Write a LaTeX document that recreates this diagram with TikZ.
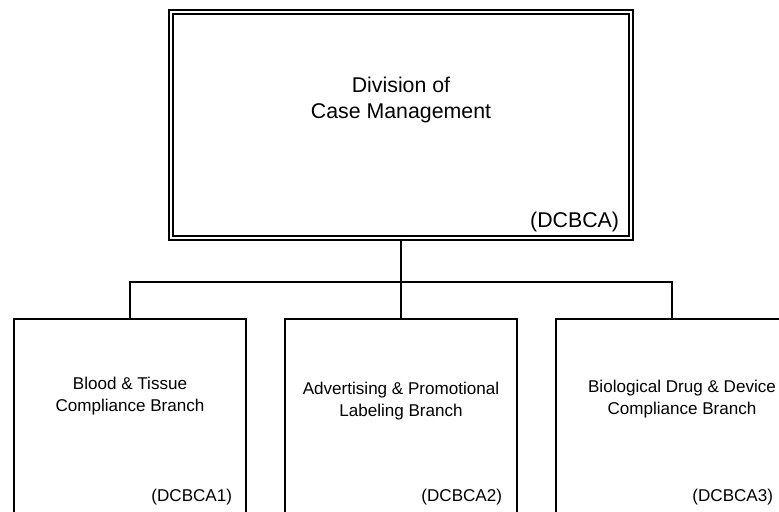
\documentclass[tikz,border=0pt]{standalone}
\usepackage{fontspec}
\setmainfont{Liberation Sans}

\tikzset{every picture/.style={line width=0.75pt}}
\tikzset{
  divbox/.style={draw, double, line width=0.9pt, double distance=2pt, minimum width=345pt, minimum height=169.5pt},
  branchbox/.style={draw, line width=1pt, minimum width=174pt, minimum height=187.5pt},
  divtext/.style={font=\fontsize{16pt}{19pt}\selectfont, align=center},
  brtext/.style={font=\fontsize{12.8pt}{16pt}\selectfont, align=center},
}

\begin{document}
\begin{tikzpicture}[x=0.75pt,y=0.75pt,yscale=-1,xscale=1]
\useasboundingbox (0,0) rectangle (779,511);
\clip (0,0) rectangle (779,511);

%Shape: Rectangle [division]
\node [divbox] (dcm) at (401,125) {};
%Shape: Rectangle [branches]
\node [branchbox] (bt) at (130,444) {};
\node [branchbox] (ap) at (401,444) {};
\node [branchbox] (bd) at (672,444) {};

%Straight Lines [tree]
\coordinate (bus) at (401,282);
\draw [line width=1pt] (dcm.south) -- (bus);
\draw [line width=1pt] (bt.north) |- (bus) -| (bd.north);
\draw [line width=1pt] (bus) -- (ap.north);

% Text Node
\node [divtext] (dcmname) at (401,100) {Division of\\Case Management};
% Text Node
\node [divtext, anchor=east] (dcmcode) at (624,222) {(DCBCA)};
% Text Node
\node [brtext] (btname) at (130,396) {Blood \& Tissue\\Compliance Branch};
% Text Node
\node [brtext, anchor=east] (btcode) at (237,497) {(DCBCA1)};
% Text Node
\node [brtext] (apname) at (401,401) {Advertising \& Promotional\\Labeling Branch};
% Text Node
\node [brtext, anchor=east] (apcode) at (507,497) {(DCBCA2)};
% Text Node
\node [brtext] (bdname) at (682,399) {Biological Drug \& Device\\Compliance Branch};
% Text Node
\node [brtext, anchor=east] (bdcode) at (778,497) {(DCBCA3)};

\end{tikzpicture}
\end{document}
